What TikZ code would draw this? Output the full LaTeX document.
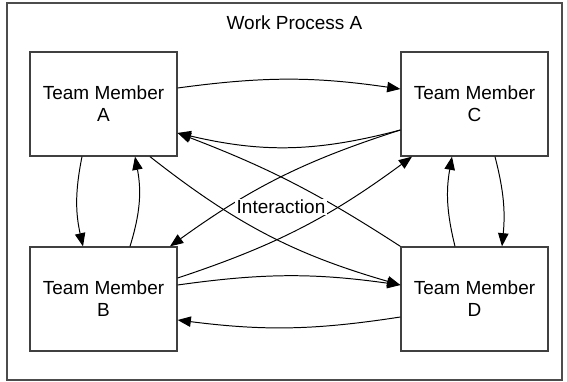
\documentclass[tikz,border=0pt]{standalone}
\usepackage{fontspec}
\setmainfont{Liberation Sans}
\usetikzlibrary{arrows.meta,calc}

\tikzset{
  member/.style={draw=black!75, line width=0.9pt, minimum width=3.675cm, minimum height=2.6cm,
    align=center, inner sep=0pt, font=\fontsize{13.5}{15.6}\selectfont},
  link/.style={-{Triangle[length=3.3mm,width=2.6mm]}, line width=0.7pt},
}

\begin{document}
\begin{tikzpicture}[x=0.025cm,y=-0.025cm]
  \useasboundingbox (0,0) rectangle (567,382);
  % Outer frame with the process title
  \draw[black!70, line width=0.8pt] (7,3) rectangle (562,380);
  \node (title) at (294.5,22.5) {\fontsize{13.5}{15.6}\selectfont Work Process A};
  % Team members
  \node[member] (A) at (103.5,104) {Team Member\\A};
  \node[member] (C) at (474.5,104) {Team Member\\C};
  \node[member] (B) at (103.5,299) {Team Member\\B};
  \node[member] (D) at (474.5,299) {Team Member\\D};
  % Horizontal links
  \draw[link] ($(A.east)+(0,-16)$) to[bend left=8] ($(C.west)+(0,-15)$);
  \draw[link] ($(C.west)+(0,26)$) to[bend left=14] ($(A.east)+(0,29)$);
  \draw[link] ($(B.east)+(0,-14)$) to[bend left=8] ($(D.west)+(0,-14)$);
  \draw[link] ($(D.west)+(0,18)$) to[bend left=8] ($(B.east)+(0,21)$);
  % Vertical links
  \draw[link] ($(A.south)+(-21.5,0)$) to[bend right=12] ($(B.north)+(-20.5,0)$);
  \draw[link] ($(B.north)+(26.5,0)$) to[bend right=14] ($(A.south)+(31.5,0)$);
  \draw[link] ($(D.north)+(-19.5,0)$) to[bend left=12] ($(C.south)+(-22.5,0)$);
  \draw[link] ($(C.south)+(20.5,0)$) to[bend left=10] ($(D.north)+(27.5,0)$);
  % Diagonal links
  \draw[link] (D.north west) to[bend right=6] ($(A.east)+(0,29)$);
  \draw[link] ($(A.south)+(46.5,0)$) to[bend right=11] ($(D.west)+(0,-14)$);
  \draw[link] ($(C.west)+(0,26)$) to[bend right=9] ($(B.north)+(66.5,0)$);
  \draw[link] ($(B.east)+(0,-21)$) to[bend right=9] ($(C.south)+(-62.5,0)$);
  % Label over the crossing
  \node[fill=white, inner sep=1pt, font=\fontsize{13.5}{15.6}\selectfont] (inter) at (281,207) {Interaction};
\end{tikzpicture}
\end{document}
